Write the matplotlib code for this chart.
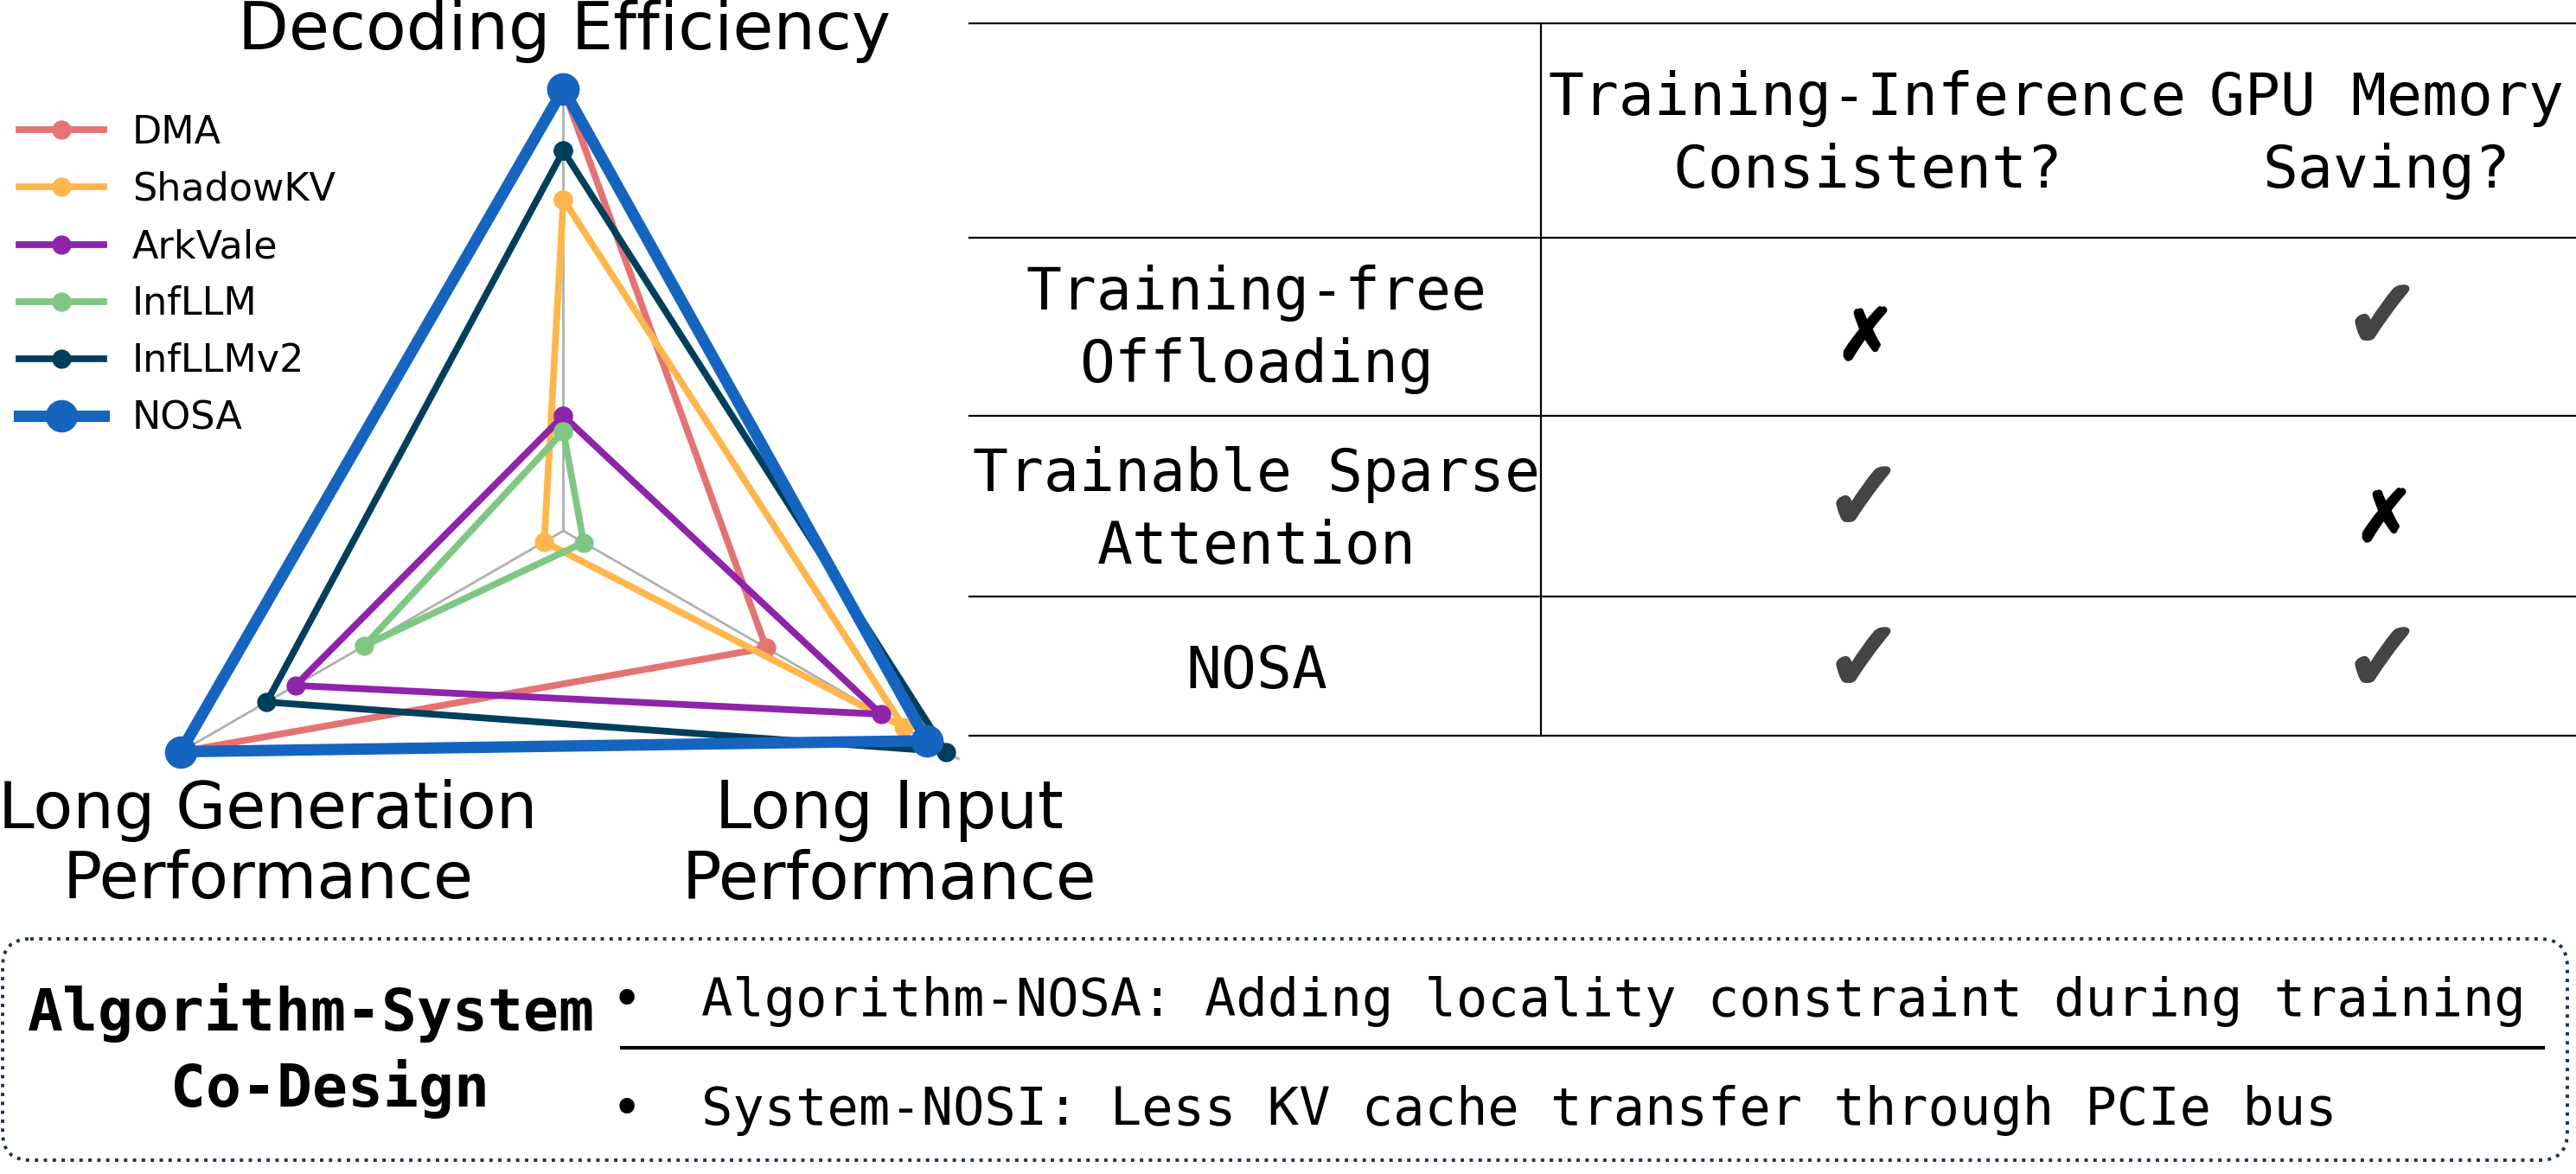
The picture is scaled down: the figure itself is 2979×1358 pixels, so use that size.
import numpy as np
import matplotlib
matplotlib.use("Agg")
import matplotlib.pyplot as plt
import matplotlib.patheffects as pe
from matplotlib.lines import Line2D
from matplotlib.patches import FancyBboxPatch

# --- radar data (normalised scores) ---
axes_labels = ["Decoding Efficiency", "Long Input\nPerformance", "Long Generation\nPerformance"]
methods = ["DMA", "ShadowKV", "ArkVale", "InfLLM", "InfLLMv2", "NOSA"]
dma = [1.0, 0.53, 1.0]
shadowkv = [0.75, 0.89, 0.05]
arkvale = [0.26, 0.83, 0.70]
infllm = [0.225, 0.053, 0.52]
infllmv2 = [0.86, 1.0, 0.775]
nosa = [1.0, 0.95, 1.0]
colors = ["#e57373", "#ffb74d", "#8e24aa", "#81c784", "#003f5c", "#1565c0"]

# --- table data ---
col_headers = ["Training-Inference\nConsistent?", "GPU Memory\nSaving?"]
row_labels = ["Training-free\nOffloading", "Trainable Sparse\nAttention", "NOSA"]
consistent = [False, True, True]
mem_saving = [True, False, True]

# --- bottom box text ---
box_title = ["Algorithm-System", "Co-Design"]
box_points = ["Algorithm-NOSA: Adding locality constraint during training",
              "System-NOSI: Less KV cache transfer through PCIe bus"]

W, H = 2979, 1358
fig = plt.figure(figsize=(W / 100, H / 100), dpi=100)

# radar chart
ax = fig.add_axes([0.04112, 0.1583, 0.35515, 0.7791], projection="polar")
angles = np.linspace(0, 2 * np.pi, 3, endpoint=False)
ax.set_theta_offset(np.pi / 2)
ax.set_theta_direction(-1)
ax.set_ylim(0, 1.035)
ax.set_xticks(angles)
ax.set_xticklabels([])
ax.set_yticks([])
ax.spines["polar"].set_visible(False)
ax.xaxis.grid(True, color="#b0b0b0", lw=2)
ax.patch.set_alpha(0)

series = [dma, shadowkv, arkvale, infllm, infllmv2, nosa]
handles = []
for i, (name, vals, c) in enumerate(zip(methods, series, colors)):
    big = name == "NOSA"
    lw = 9.5 if big else 5.6
    ms = 26 if big else 15
    closed = list(vals) + [vals[0]]
    th = list(angles) + [angles[0]]
    ax.plot(th, closed, color=c, lw=lw, marker="o", ms=ms, zorder=3 + i, clip_on=False)
    handles.append(Line2D([], [], color=c, lw=lw, marker="o", ms=ms, label=name))

fig.legend(handles=handles, loc="upper left", bbox_to_anchor=(0.0014, 0.916),
           frameon=False, fontsize=32, handlelength=2.2, handletextpad=0.75,
           labelspacing=0.52, borderaxespad=0)

# axis labels of radar
fig.text(653 / W, 1 - 36 / H, axes_labels[0], fontsize=55, ha="center", va="center")
fig.text(1028 / W, 1 - 978 / H, axes_labels[1], fontsize=54.5, ha="center", va="center",
         linespacing=1.15)
fig.text(310 / W, 1 - 978 / H, axes_labels[2], fontsize=54, ha="center", va="center",
         linespacing=1.15)

# overlay in pixel coordinates for table and box
ov = fig.add_axes([0, 0, 1, 1])
ov.set_xlim(0, W)
ov.set_ylim(H, 0)
ov.axis("off")
ov.patch.set_alpha(0)

mono = "DejaVu Sans Mono"
line_ys = [27, 275, 481, 690, 851]
for y in line_ys:
    ov.plot([1121, W], [y, y], color="black", lw=1.6)
ov.plot([1782, 1782], [27, 851], color="black", lw=1.6)

col_x = [2160, 2760]
for x, h in zip(col_x, col_headers):
    ov.text(x, 156, h, family=mono, fontsize=49, ha="center", va="center", linespacing=1.33)

row_y = [381, 591, 777]
for y, lab in zip(row_y, row_labels):
    ov.text(1453, y, lab, family=mono, fontsize=49, ha="center", va="center", linespacing=1.36)

for y, a, b in zip(row_y, consistent, mem_saving):
    for x, ok in zip(col_x, [a, b]):
        if ok:
            ov.text(x - 4, y - 10, "\u2713", fontsize=78, color="#444444",
                    ha="center", va="center",
                    path_effects=[pe.withStroke(linewidth=5, foreground="#444444")])
        else:
            ov.text(x - 3, y + 6, "\u2717", family=[mono, "DejaVu Sans"], fontsize=72,
                    color="black", ha="center", va="center",
                    path_effects=[pe.withStroke(linewidth=2.5, foreground="black")])

# bottom box
box = FancyBboxPatch((3, 1086), 2966, 256, boxstyle="round,pad=0,rounding_size=32",
                     fill=False, ec="#1f3152", lw=2.8, ls=":")
ov.add_patch(box)
ov.text(360, 1172, box_title[0], family=mono, weight="bold", fontsize=49,
        ha="center", va="center")
ov.text(382, 1260, box_title[1], family=mono, weight="bold", fontsize=49,
        ha="center", va="center")
ov.plot([719, 2941], [1212, 1212], color="black", lw=3)
for y, t in zip([1159, 1285], box_points):
    ov.text(725, y, "\u2022", family=mono, fontsize=43.5, ha="center", va="center")
    ov.text(811, y, t, family=mono, fontsize=43.5, ha="left", va="center")

fig.savefig("out.png", dpi=100)
